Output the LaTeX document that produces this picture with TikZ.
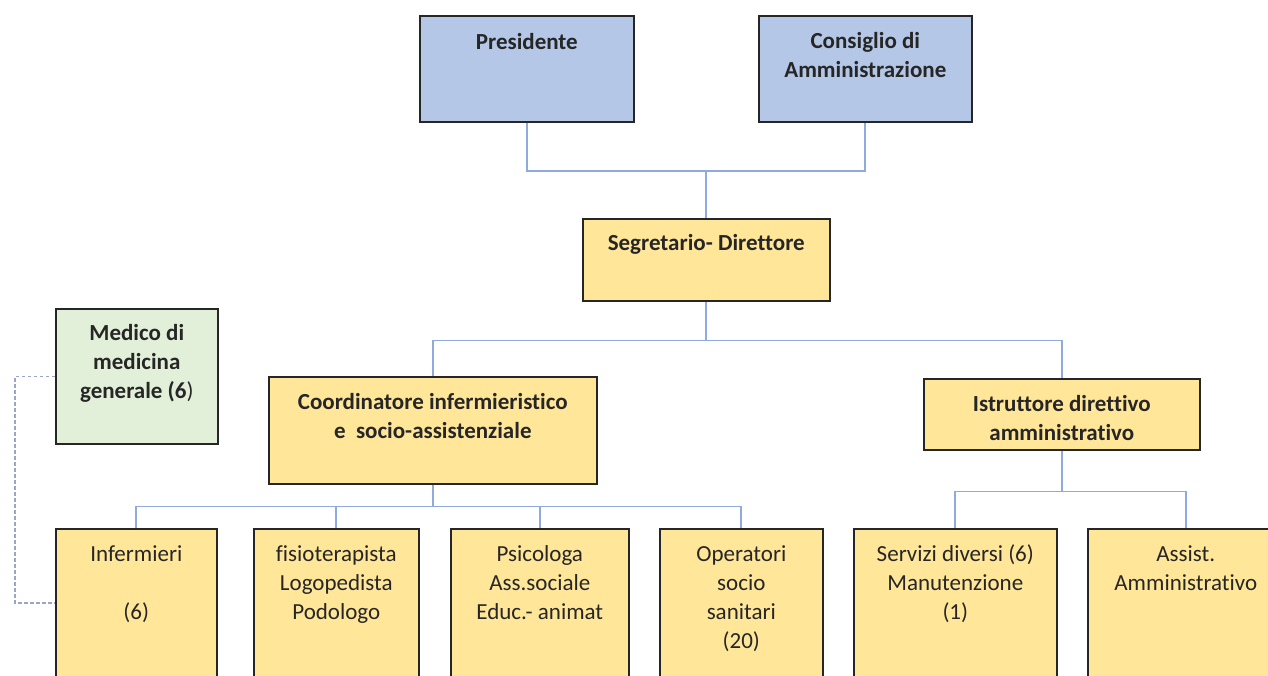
\documentclass[tikz,border=0pt]{standalone}
\usepackage{fontspec}
\setmainfont{Carlito}[Ligatures=NoCommon]
\usetikzlibrary{calc}
\definecolor{bluefill}{HTML}{B4C7E7}
\definecolor{yelfill}{HTML}{FFE699}
\definecolor{grnfill}{HTML}{E2F0D9}
\definecolor{conn}{HTML}{8FAADC}
\definecolor{dconn}{HTML}{9AA6C8}
\definecolor{ink}{HTML}{262626}
\begin{document}
\begin{tikzpicture}[x=1pt,y=-1pt,
 box/.style={draw=black!85, line width=1.6pt, anchor=north west, inner sep=0pt},
 txt/.style={anchor=north, align=center, inner sep=0pt, font=\fontsize{23}{29}\selectfont, text=ink},
 btxt/.style={anchor=north, align=center, inner sep=0pt, font=\fontsize{23}{29}\selectfont\bfseries, text=ink},
 link/.style={draw=conn, line width=1.7pt},
 dlink/.style={draw=dconn, line width=1.4pt, dash pattern=on 3.5pt off 2.5pt}]
\clip (0,0) rectangle (1268,675);
\fill[white] (0,0) rectangle (1268,675);
% top row
\node[box, fill=bluefill, minimum width=214pt, minimum height=106pt] (pres) at (419,15) {};
\node[box, fill=bluefill, minimum width=213pt, minimum height=106pt] (cda) at (758,15) {};
\node[box, fill=yelfill, minimum width=247pt, minimum height=82pt] (seg) at (582,218) {};
% second row
\node[box, fill=yelfill, minimum width=328pt, minimum height=107pt] (coord) at (268,376) {};
\node[box, fill=yelfill, minimum width=276pt, minimum height=71pt] (istr) at (923,378) {};
\node[box, fill=grnfill, minimum width=162pt, minimum height=135pt] (med) at (55,308) {};
% bottom row
\node[box, fill=yelfill, minimum width=161pt, minimum height=175pt] (inf) at (55,528) {};
\node[box, fill=yelfill, minimum width=165pt, minimum height=175pt] (fis) at (253,528) {};
\node[box, fill=yelfill, minimum width=178pt, minimum height=175pt] (psi) at (450,528) {};
\node[box, fill=yelfill, minimum width=163pt, minimum height=175pt] (oper) at (659,528) {};
\node[box, fill=yelfill, minimum width=203pt, minimum height=175pt] (serv) at (853,528) {};
\node[box, fill=yelfill, minimum width=196pt, minimum height=175pt] (assi) at (1087,528) {};
% texts
\node[btxt] (tpres) at ($(pres.north)+(0,13.7)$) {\strut Presidente};
\node[btxt] (tcda) at ($(cda.north)+(0,12.5)$) {\strut Consiglio di\\Amministrazione};
\node[btxt] (tseg) at ($(seg.north)+(0,12)$) {\strut Segretario- Direttore};
\node[btxt] (tcoord) at ($(coord.north)+(0,12.5)$) {\strut Coordinatore infermieristico\\e\ \ socio-assistenziale};
\node[btxt] (tistr) at ($(istr.north)+(0,12.5)$) {\strut Istruttore direttivo\\amministrativo};
\node[btxt] (tmed) at ($(med.north)+(0,12)$) {\strut Medico di\\medicina\\generale (6\textmd{)}};
\node[txt] (tinf) at ($(inf.north)+(0,12.7)$) {\strut Infermieri\\[29pt](6)};
\node[txt] (tfis) at ($(fis.north)+(0,12.7)$) {\strut fisioterapista\\Logopedista\\Podologo};
\node[txt] (tpsi) at ($(psi.north)+(0,12.7)$) {\strut Psicologa\\Ass.sociale\\Educ.- animat};
\node[txt] (toper) at ($(oper.north)+(0,12.7)$) {\strut Operatori\\socio\\sanitari\\(20)};
\node[txt] (tserv) at ($(serv.north)+(0,12.7)$) {\strut Servizi diversi (6)\\Manutenzione\\(1)};
\node[txt] (tassi) at ($(assi.north)+(0,12.7)$) {\strut Assist.\\Amministrativo};
% connectors
\coordinate (j1) at ($(seg.north)+(0,-47)$);
\draw[link] (pres.south) |- (j1) -| (cda.south);
\draw[link] (j1) -- (seg.north);
\coordinate (j2) at ($(seg.south)+(0,39)$);
\draw[link] (seg.south) -- (j2);
\draw[link] (coord.north) |- (j2) -| (istr.north);
\coordinate (j3) at ($(coord.south)+(0,22)$);
\draw[link] (coord.south) -- (j3);
\draw[link] (inf.north) |- (j3) -| (oper.north);
\draw[link] (fis.north) -- (fis.north |- j3);
\draw[link] (psi.north) -- (psi.north |- j3);
\coordinate (j4) at ($(istr.south)+(0,41)$);
\draw[link] (istr.south) -- (j4);
\draw[link] (serv.north) |- (j4) -| (assi.north);
\coordinate (dk) at ($(inf.north west)+(0,75)$);
\draw[dlink] (med.west) -- ++(-40,0) |- (dk);
\end{tikzpicture}
\end{document}
